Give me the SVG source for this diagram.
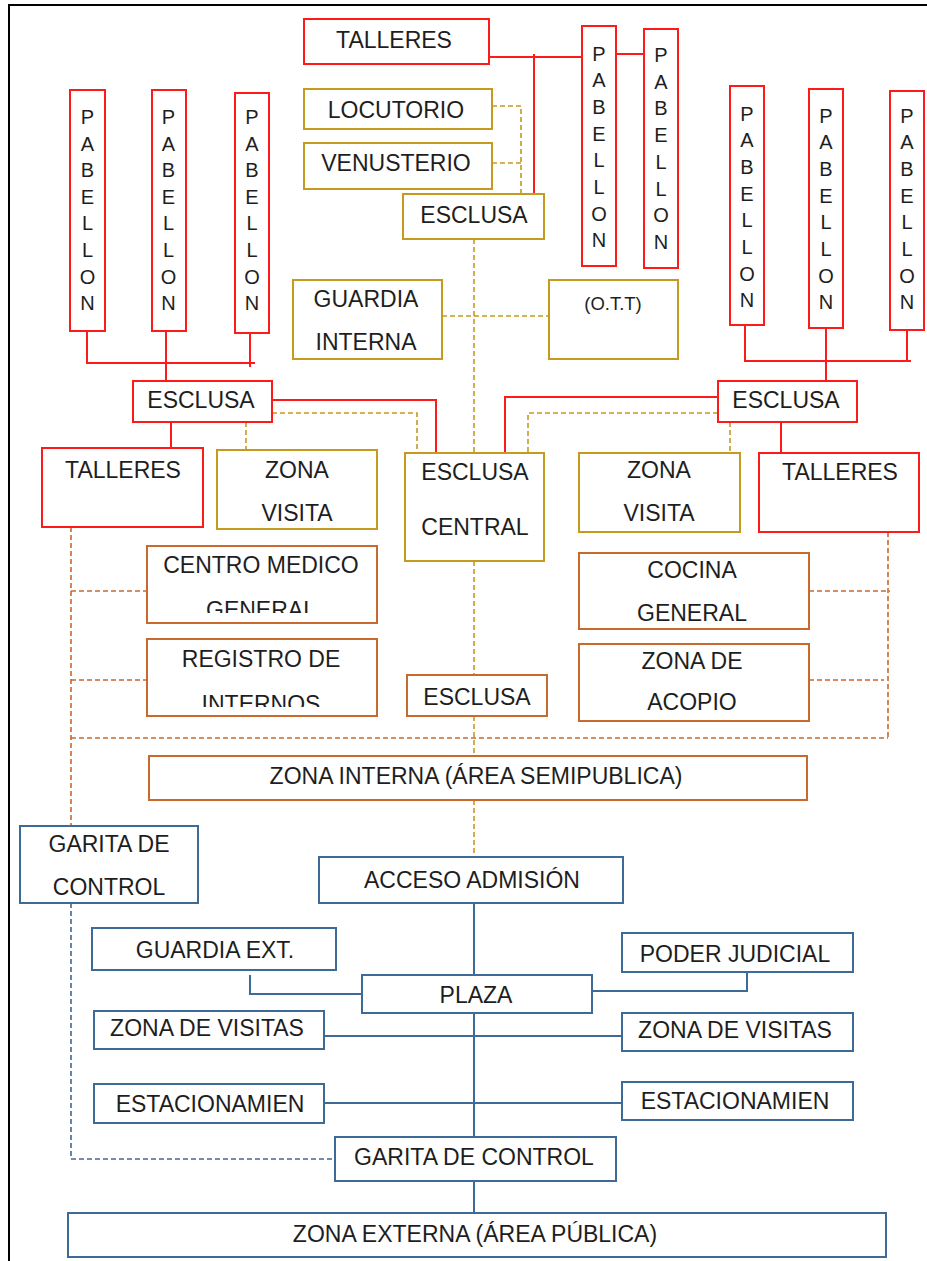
<svg xmlns="http://www.w3.org/2000/svg" width="927" height="1261" viewBox="0 0 927 1261">
<style>
text{font-family:"Liberation Sans",Arial,sans-serif;font-size:23px;fill:#1e1e1e;text-anchor:middle}
.pb{font-size:20px}
.ott{font-size:18.5px}
rect{fill:#fff;stroke-width:2}
.r{stroke:#ff1a1a}
.g{stroke:#c49a1f}
.o{stroke:#c8692e}
.b{stroke:#3d6a96}
path{fill:none;stroke-width:2}
.lr{stroke:#ff1a1a}
.lg{stroke:#c49a1f;stroke-width:1.6;stroke-dasharray:5 3}
.lo{stroke:#c8692e;stroke-width:1.6;stroke-dasharray:5 3}
.lb{stroke:#3d6a96}
.lbd{stroke:#3d6a96;stroke-width:1.6;stroke-dasharray:5 3}
</style>
<defs>
<clipPath id="clipCM"><rect x="147" y="546" width="230" height="67"/></clipPath>
<clipPath id="clipRI"><rect x="147" y="639" width="230" height="68"/></clipPath>
</defs>
<rect x="0" y="0" width="927" height="1261" fill="#fff" stroke="none"/>
<path d="M9,1261 V5 H927" stroke="#000" stroke-width="2.5"/>

<g id="connectors">
<path class="lr" d="M489,57 H582"/>
<path class="lr" d="M534,54 V194"/>
<path class="lr" d="M616,54 H644"/>
<path class="lr" d="M87,331 V363 H255"/>
<path class="lr" d="M250,333 V367"/>
<path class="lr" d="M166,331 V381"/>
<path class="lr" d="M745,325 V361 H911"/>
<path class="lr" d="M907,330 V361"/>
<path class="lr" d="M826,328 V381"/>
<path class="lr" d="M272,400 H436 V453"/>
<path class="lr" d="M718,397 H505 V453"/>
<path class="lr" d="M171,422 V448"/>
<path class="lr" d="M781,422 V453"/>
<path class="lg" d="M492,106 H521 V194"/>
<path class="lg" d="M492,163 H521"/>
<path class="lg" d="M474,239 V453"/>
<path class="lg" d="M442,316 H549"/>
<path class="lg" d="M272,413 H417 V453"/>
<path class="lg" d="M718,413 H528 V453"/>
<path class="lg" d="M246,422 V450"/>
<path class="lg" d="M730,422 V453"/>
<path class="lg" d="M474,561 V675"/>
<path class="lg" d="M474,716 V756"/>
<path class="lg" d="M474,800 V857"/>
<path class="lo" d="M71,527 V826"/>
<path class="lo" d="M71,591 H147"/>
<path class="lo" d="M71,680 H147"/>
<path class="lo" d="M71,738 H888"/>
<path class="lo" d="M888,532 V738"/>
<path class="lo" d="M809,591 H890"/>
<path class="lo" d="M809,680 H884"/>
<path class="lb" d="M474,903 V975"/>
<path class="lb" d="M474,1013 V1137"/>
<path class="lb" d="M474,1181 V1213"/>
<path class="lb" d="M250,975 V994 H362"/>
<path class="lb" d="M747,972 V991 H592"/>
<path class="lb" d="M324,1036 H622"/>
<path class="lb" d="M324,1103 H622"/>
<path class="lbd" d="M71,903 V1159 H335"/>
</g>

<g id="talleres-top"><rect class="r" x="304" y="19" width="185" height="45"/><text x="394" y="48">TALLERES</text></g>

<g id="pabellon-l1"><rect class="r" x="70" y="90" width="35" height="241"/>
<text class="pb" x="87.5" y="124"><tspan x="87.5">P</tspan><tspan x="87.5" dy="26.6">A</tspan><tspan x="87.5" dy="26.6">B</tspan><tspan x="87.5" dy="26.6">E</tspan><tspan x="87.5" dy="26.6">L</tspan><tspan x="87.5" dy="26.6">L</tspan><tspan x="87.5" dy="26.6">O</tspan><tspan x="87.5" dy="26.6">N</tspan></text></g>
<g id="pabellon-l2"><rect class="r" x="152" y="90" width="34" height="241"/>
<text class="pb" x="168.5" y="124"><tspan x="168.5">P</tspan><tspan x="168.5" dy="26.6">A</tspan><tspan x="168.5" dy="26.6">B</tspan><tspan x="168.5" dy="26.6">E</tspan><tspan x="168.5" dy="26.6">L</tspan><tspan x="168.5" dy="26.6">L</tspan><tspan x="168.5" dy="26.6">O</tspan><tspan x="168.5" dy="26.6">N</tspan></text></g>
<g id="pabellon-l3"><rect class="r" x="235" y="93" width="34" height="240"/>
<text class="pb" x="252" y="124"><tspan x="252">P</tspan><tspan x="252" dy="26.6">A</tspan><tspan x="252" dy="26.6">B</tspan><tspan x="252" dy="26.6">E</tspan><tspan x="252" dy="26.6">L</tspan><tspan x="252" dy="26.6">L</tspan><tspan x="252" dy="26.6">O</tspan><tspan x="252" dy="26.6">N</tspan></text></g>
<g id="pabellon-p1"><rect class="r" x="582" y="26" width="34" height="240"/>
<text class="pb" x="599" y="60.5"><tspan x="599">P</tspan><tspan x="599" dy="26.7">A</tspan><tspan x="599" dy="26.7">B</tspan><tspan x="599" dy="26.7">E</tspan><tspan x="599" dy="26.7">L</tspan><tspan x="599" dy="26.7">L</tspan><tspan x="599" dy="26.7">O</tspan><tspan x="599" dy="26.7">N</tspan></text></g>
<g id="pabellon-p2"><rect class="r" x="644" y="29" width="34" height="239"/>
<text class="pb" x="661" y="62"><tspan x="661">P</tspan><tspan x="661" dy="26.7">A</tspan><tspan x="661" dy="26.7">B</tspan><tspan x="661" dy="26.7">E</tspan><tspan x="661" dy="26.7">L</tspan><tspan x="661" dy="26.7">L</tspan><tspan x="661" dy="26.7">O</tspan><tspan x="661" dy="26.7">N</tspan></text></g>
<g id="pabellon-r1"><rect class="r" x="730" y="86" width="34" height="239"/>
<text class="pb" x="747" y="120.5"><tspan x="747">P</tspan><tspan x="747" dy="26.7">A</tspan><tspan x="747" dy="26.7">B</tspan><tspan x="747" dy="26.7">E</tspan><tspan x="747" dy="26.7">L</tspan><tspan x="747" dy="26.7">L</tspan><tspan x="747" dy="26.7">O</tspan><tspan x="747" dy="26.7">N</tspan></text></g>
<g id="pabellon-r2"><rect class="r" x="809" y="89" width="34" height="239"/>
<text class="pb" x="826" y="122.5"><tspan x="826">P</tspan><tspan x="826" dy="26.7">A</tspan><tspan x="826" dy="26.7">B</tspan><tspan x="826" dy="26.7">E</tspan><tspan x="826" dy="26.7">L</tspan><tspan x="826" dy="26.7">L</tspan><tspan x="826" dy="26.7">O</tspan><tspan x="826" dy="26.7">N</tspan></text></g>
<g id="pabellon-r3"><rect class="r" x="890" y="91" width="34" height="239"/>
<text class="pb" x="907" y="122.5"><tspan x="907">P</tspan><tspan x="907" dy="26.7">A</tspan><tspan x="907" dy="26.7">B</tspan><tspan x="907" dy="26.7">E</tspan><tspan x="907" dy="26.7">L</tspan><tspan x="907" dy="26.7">L</tspan><tspan x="907" dy="26.7">O</tspan><tspan x="907" dy="26.7">N</tspan></text></g>

<g id="locutorio"><rect class="g" x="304" y="89" width="188" height="40"/><text x="396" y="118">LOCUTORIO</text></g>
<g id="venusterio"><rect class="g" x="304" y="143" width="188" height="46"/><text x="396" y="171">VENUSTERIO</text></g>
<g id="esclusa-top"><rect class="g" x="403" y="194" width="141" height="45"/><text x="474" y="223">ESCLUSA</text></g>
<g id="guardia-interna"><rect class="g" x="293" y="280" width="149" height="79"/><text x="366" y="307">GUARDIA</text><text x="366" y="350">INTERNA</text></g>
<g id="ott"><rect class="g" x="549" y="280" width="129" height="79"/><text class="ott" x="613" y="309.5">(O.T.T)</text></g>

<g id="esclusa-left"><rect class="r" x="133" y="381" width="139" height="41"/><text x="201" y="408">ESCLUSA</text></g>
<g id="esclusa-right"><rect class="r" x="718" y="381" width="139" height="41"/><text x="786" y="408">ESCLUSA</text></g>
<g id="talleres-left"><rect class="r" x="42" y="448" width="161" height="79"/><text x="123" y="478">TALLERES</text></g>
<g id="zona-visita-left"><rect class="g" x="217" y="450" width="160" height="79"/><text x="297" y="478">ZONA</text><text x="297" y="521">VISITA</text></g>
<g id="esclusa-central"><rect class="g" x="405" y="453" width="139" height="108"/><text x="475" y="480">ESCLUSA</text><text x="475" y="535">CENTRAL</text></g>
<g id="zona-visita-right"><rect class="g" x="579" y="453" width="161" height="79"/><text x="659" y="478">ZONA</text><text x="659" y="521">VISITA</text></g>
<g id="talleres-right"><rect class="r" x="759" y="453" width="160" height="79"/><text x="840" y="480">TALLERES</text></g>

<g id="centro-medico"><rect class="o" x="147" y="546" width="230" height="77"/><text x="261" y="573">CENTRO MEDICO</text><text x="261" y="618" clip-path="url(#clipCM)">GENERAL</text></g>
<g id="registro"><rect class="o" x="147" y="639" width="230" height="77"/><text x="261" y="667">REGISTRO DE</text><text x="261" y="712" clip-path="url(#clipRI)">INTERNOS</text></g>
<g id="esclusa-small"><rect class="o" x="407" y="675" width="140" height="41"/><text x="477" y="705">ESCLUSA</text></g>
<g id="cocina"><rect class="o" x="579" y="553" width="230" height="76"/><text x="692" y="578">COCINA</text><text x="692" y="621">GENERAL</text></g>
<g id="acopio"><rect class="o" x="579" y="644" width="230" height="77"/><text x="692" y="669">ZONA DE</text><text x="692" y="710">ACOPIO</text></g>
<g id="zona-interna"><rect class="o" x="149" y="756" width="658" height="44"/><text x="476" y="784">ZONA INTERNA (ÁREA SEMIPUBLICA)</text></g>

<g id="garita-left"><rect class="b" x="20" y="826" width="178" height="77"/><text x="109" y="851.5">GARITA DE</text><text x="109" y="895">CONTROL</text></g>
<g id="acceso"><rect class="b" x="319" y="857" width="304" height="46"/><text x="472" y="887.5">ACCESO ADMISIÓN</text></g>
<g id="guardia-ext"><rect class="b" x="92" y="928" width="244" height="42"/><text x="215" y="957.5">GUARDIA EXT.</text></g>
<g id="poder-judicial"><rect class="b" x="622" y="933" width="231" height="39"/><text x="735" y="961.5">PODER JUDICIAL</text></g>
<g id="plaza"><rect class="b" x="362" y="975" width="230" height="38"/><text x="476" y="1003">PLAZA</text></g>
<g id="zona-visitas-left"><rect class="b" x="94" y="1011" width="230" height="38"/><text x="207" y="1035.5">ZONA DE VISITAS</text></g>
<g id="zona-visitas-right"><rect class="b" x="622" y="1013" width="231" height="38"/><text x="735" y="1037.5">ZONA DE VISITAS</text></g>
<g id="estac-left"><rect class="b" x="94" y="1084" width="230" height="39"/><text x="210" y="1111.5">ESTACIONAMIEN</text></g>
<g id="estac-right"><rect class="b" x="622" y="1082" width="231" height="38"/><text x="735" y="1109">ESTACIONAMIEN</text></g>
<g id="garita-bottom"><rect class="b" x="335" y="1137" width="281" height="44"/><text x="474" y="1165">GARITA DE CONTROL</text></g>
<g id="zona-externa"><rect class="b" x="68" y="1213" width="818" height="44"/><text x="475" y="1241.5">ZONA EXTERNA (ÁREA PÚBLICA)</text></g>
</svg>
